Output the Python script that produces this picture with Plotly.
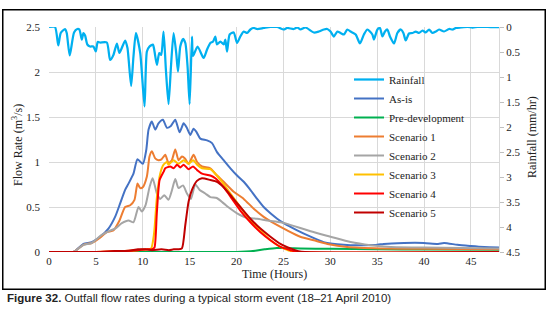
import plotly.graph_objects as go

# ---------------- data ----------------
rain_t = [0, 0.64, 0.99, 1.25, 1.71, 1.89, 2.21, 2.67, 3.02, 3.24, 3.5, 3.67, 3.85, 4.09, 4.38, 4.73, 4.99,
          5.2, 5.45, 6.17, 6.52, 6.87, 7.24, 7.51, 8.12, 8.37, 8.76, 9.01, 9.27, 9.73, 10.19, 10.44, 10.72,
          11.08, 11.22, 11.51, 11.76, 11.97, 12.22, 12.47, 12.75, 13.01, 13.29, 13.57, 13.76, 14.0, 14.29,
          14.54, 14.78, 15.0, 15.25, 15.36, 15.85, 16.49, 16.86, 17.21, 17.5, 17.74, 17.92, 18.28, 18.63,
          18.81, 18.99, 19.27, 19.7, 20.06, 20.41, 20.77, 21.13, 21.48, 21.84, 22.2, 22.9, 23.62, 24.34,
          25.04, 25.4, 26.11, 26.47, 26.83, 27.36, 28.25, 28.78, 29.32, 29.68, 30.03, 30.39, 30.75, 31.1,
          31.46, 31.82, 32.17, 32.71, 33.17, 33.59, 33.96, 34.49, 34.66, 35.03, 35.3, 35.56, 35.84, 36.09,
          36.37, 36.8, 37.16, 37.52, 37.8, 38.05, 38.4, 38.77, 39.12, 39.47, 39.84, 40.19, 40.54, 40.9,
          41.26, 41.61, 42.14, 42.68, 43.04, 43.4, 43.93, 44.65, 45.18, 45.71, 47.1, 48]
rain_v = [0, 0, 0.37, 0.12, 0.04, 0.12, 0.57, 0.11, 0.04, 0.05, 0.25, 0.12, 0.17, 0.35, 0.39, 0.39, 0.49,
          0.3, 0.31, 0.31, 0.66, 0.56, 0.33, 0.52, 0.27, 0.42, 1.18, 0.59, 0.12, 0.52, 1.59, 0.49, 0.39,
          0.35, 0.45, 0.76, 0.52, 0.56, 0.09, 0.86, 1.54, 0.79, 0.12, 0.52, 0.89, 0.39, 0.24,
          0.32, 0.79, 1.54, 0.19, 0.58, 0.39, 0.62, 0.45, 0.32, 0.29, 0.19, 0.35, 0.29, 0.35,
          0.25, 0.49, 0.15, 0.11, 0.32, 0.19, 0.09, 0.12, 0.05, 0.02, 0.04, 0.02, 0, 0,
          0.05, 0.02, 0.04, 0.01, 0.05, 0.01, 0.11, 0.09, 0.05, 0.04, 0.09, 0.19, 0.09, 0.12,
          0.15, 0.05, 0.09, 0.15, 0.33, 0.15, 0.05, 0.15, 0.25, 0.05, 0.02, 0.19, 0.09, 0.05,
          0.19, 0.33, 0.12, 0.05, 0.12, 0.27, 0.13, 0.12, 0.09, 0.12, 0.07, 0.11, 0.05, 0.12,
          0.09, 0.05, 0.09, 0.04, 0.05, 0.02, 0.01, 0, 0.01, 0, 0, 0]

asis_t = [0, 2.6, 3.67, 4.56, 5.45, 6.34, 7.05, 7.59, 8.12, 8.48, 9.01, 9.44, 10.01, 10.37, 10.62, 10.97,
          11.33, 11.68, 12.15, 12.58, 13.0, 13.47, 13.93, 14.36, 14.7, 15.07, 15.42, 15.75, 16.14, 16.86,
          17.39, 17.92, 18.63, 19.35, 20.06, 20.77, 21.48, 22.2, 22.9, 23.62, 24.34, 25.04, 26.47, 27.9,
          29.3, 30.75, 32.17, 33.6, 35.03, 35.7, 37.87, 40.0, 41.5, 42.14, 43.57, 45.0, 46.42, 48]
asis_q = [0, 0, 0.09, 0.11, 0.17, 0.26, 0.39, 0.54, 0.69, 0.76, 0.87, 1.03, 0.98, 1.13, 1.36, 1.45,
          1.36, 1.43, 1.47, 1.38, 1.40, 1.47, 1.33, 1.43, 1.38, 1.30, 1.37, 1.33, 1.26, 1.24,
          1.21, 1.11, 1.02, 0.93, 0.85, 0.78, 0.69, 0.59, 0.50, 0.43, 0.37, 0.32, 0.24, 0.17,
          0.11, 0.086, 0.075, 0.075, 0.08, 0.09, 0.10, 0.10, 0.09, 0.10, 0.08, 0.067, 0.056, 0.05]

pre_t = [0, 20, 21, 22, 23, 24.3, 26.8, 30, 35, 40, 48]
pre_q = [0, 0, 0.005, 0.015, 0.03, 0.045, 0.04, 0.035, 0.03, 0.028, 0.025]

s1_t = [0, 2.6, 3.67, 4.56, 5.45, 6.17, 6.87, 7.52, 8.12, 8.66, 9.12, 9.44, 9.73, 10.0, 10.44, 10.72,
        10.97, 11.33, 11.68, 12.0, 12.4, 12.75, 13.1, 13.47, 13.82, 14.18, 14.5, 14.89, 15.42, 15.8,
        16.32, 17.21, 17.74, 18.63, 19.7, 20.77, 21.84, 22.9, 23.97, 25.4, 26.8, 28.25, 29.7, 31.8,
        35.4, 40, 48]
s1_q = [0, 0, 0.08, 0.10, 0.16, 0.22, 0.24, 0.35, 0.50, 0.52, 0.58, 0.76, 0.71, 0.72, 0.84, 1.06,
        1.12, 1.04, 1.02, 1.03, 1.08, 0.99, 1.02, 1.14, 1.02, 1.06, 1.04, 0.98, 1.08, 1.0,
        0.95, 0.93, 0.87, 0.78, 0.67, 0.59, 0.48, 0.39, 0.32, 0.24, 0.17, 0.13, 0.09, 0.056,
        0.04, 0.035, 0.03]

s2_t = [0, 2.6, 3.67, 4.56, 5.63, 6.34, 7.05, 7.77, 8.48, 9.01, 9.55, 9.9, 10.3, 10.72, 11.05, 11.51,
        11.86, 12.3, 12.75, 13.1, 13.47, 13.82, 14.29, 14.72, 15.14, 15.6, 16.07, 16.67, 17.21, 17.9,
        18.63, 19.35, 20.06, 21.13, 22.2, 23.27, 24.69, 25.5, 27.9, 30.03, 32.17, 34.3, 36.45, 40, 48]
s2_q = [0, 0, 0.08, 0.10, 0.19, 0.23, 0.26, 0.32, 0.35, 0.33, 0.50, 0.45, 0.52, 0.72, 0.82, 0.65,
        0.59, 0.63, 0.58, 0.68, 0.81, 0.71, 0.74, 0.65, 0.59, 0.75, 0.69, 0.65, 0.61, 0.60,
        0.54, 0.48, 0.43, 0.38, 0.37, 0.35, 0.33, 0.31, 0.23, 0.17, 0.11, 0.075, 0.056, 0.05, 0.04]

s3_t = [0, 5, 8, 9.5, 10.5, 10.9, 11.2, 11.51, 11.86, 12.22, 12.58, 12.75, 13.29, 13.8, 14.36, 14.89,
        15.36, 15.8, 16.32, 17.21, 17.74, 18.46, 19.35, 20.41, 21.48, 22.55, 23.62, 24.69, 25.5, 26.3, 48]
s3_q = [0, 0, 0.01, 0.02, 0.03, 0.04, 0.2, 0.61, 0.87, 0.97, 1.0, 0.97, 1.02, 0.98, 1.02, 0.98,
        1.02, 0.97, 0.93, 0.92, 0.87, 0.78, 0.65, 0.50, 0.35, 0.24, 0.13, 0.056, 0.02, 0, 0]

s4_t = [0, 5, 8, 9.5, 10.5, 11.0, 11.25, 11.5, 11.8, 12.22, 12.4, 12.93, 13.3, 13.65, 14.0, 14.36,
        14.89, 15.36, 15.8, 16.32, 17.21, 17.74, 18.63, 19.53, 20.41, 21.48, 22.55, 23.62, 24.69,
        25.76, 26.5, 48]
s4_q = [0, 0, 0.01, 0.02, 0.03, 0.03, 0.05, 0.43, 0.8, 0.89, 0.93, 0.95, 0.93, 0.97, 0.94, 0.97,
        0.92, 0.95, 0.91, 0.87, 0.85, 0.82, 0.72, 0.59, 0.46, 0.33, 0.22, 0.13, 0.056,
        0.02, 0, 0]

s5_t = [0, 5, 7, 8.5, 9.5, 10.3, 11, 12, 12.8, 13.3, 13.82, 14.18, 14.54, 14.89, 15.25, 15.78, 16.32,
        17.21, 17.92, 18.63, 19.53, 20.41, 21.48, 22.55, 23.62, 24.69, 25.76, 26.6, 27.3, 48]
s5_q = [0, 0, 0.01, 0.015, 0.03, 0.03, 0.02, 0.03, 0.02, 0.03, 0.03, 0.04, 0.3, 0.56, 0.69, 0.79, 0.82,
        0.80, 0.78, 0.72, 0.61, 0.50, 0.37, 0.26, 0.17, 0.09, 0.04, 0.01, 0, 0]

x_ticks = [0, 5, 10, 15, 20, 25, 30, 35, 40, 45]

SERIF = "Liberation Serif"
GRID = "#d9d9d9"

fig = go.Figure()

fig.add_trace(go.Scatter(x=rain_t, y=rain_v, name="Rainfall", yaxis="y2", mode="lines",
                         line=dict(color="#00B0F0", width=2.25, shape="spline", smoothing=0.6)))

flows = [
    ("As-is", asis_t, asis_q, "#4472C4"),
    ("Pre-development", pre_t, pre_q, "#00B050"),
    ("Scenario 1", s1_t, s1_q, "#ED7D31"),
    ("Scenario 2", s2_t, s2_q, "#A5A5A5"),
    ("Scenario 3", s3_t, s3_q, "#FFC000"),
    ("Scenario 4", s4_t, s4_q, "#FF0000"),
    ("Scenario 5", s5_t, s5_q, "#C00000"),
]
for name, t, q, c in flows:
    fig.add_trace(go.Scatter(x=t, y=q, name=name, mode="lines",
                             line=dict(color=c, width=2, shape="spline", smoothing=0.6)))

W, H = 548, 319
L, R, T, B = 49, 49, 27, 67
pw, ph = W - L - R, H - T - B


def px(x):
    return (x - L) / pw


def py(y):
    return (H - B - y) / ph


TXT = "#222"

fig.update_layout(
    width=W, height=H,
    margin=dict(l=L, r=R, t=T, b=B),
    paper_bgcolor="white", plot_bgcolor="white",
    font=dict(family=SERIF, size=11, color=TXT),
    showlegend=True,
    legend=dict(x=px(349), y=py(65), xanchor="left", yanchor="top",
                bgcolor="rgba(0,0,0,0)", font=dict(family=SERIF, size=11, color=TXT),
                tracegroupgap=0),
    xaxis=dict(range=[0, 48], tickvals=x_ticks, showgrid=True, gridcolor=GRID, gridwidth=1,
               zeroline=False, showline=False, ticks="", ticklabelstandoff=1,
               tickfont=dict(family=SERIF, size=11)),
    yaxis=dict(range=[0, 2.5], dtick=0.5, showgrid=True, gridcolor=GRID, gridwidth=1,
               zeroline=False, showline=False, ticks="", ticklabelstandoff=8,
               tickfont=dict(family=SERIF, size=11)),
    yaxis2=dict(range=[4.5, 0], dtick=0.5, overlaying="y", side="right", showgrid=False,
                zeroline=False, showline=True, linecolor=GRID, linewidth=1,
                ticks="outside", ticklen=4, tickcolor="#bfbfbf", ticklabelstandoff=0,
                tickfont=dict(family=SERIF, size=11)),
    annotations=[
        dict(text="Flow Rate (m<sup>3</sup>/s)", xref="paper", yref="paper", x=px(17), y=py(145),
             xanchor="center", yanchor="middle",
             textangle=-90, showarrow=False, font=dict(family=SERIF, size=12, color=TXT)),
        dict(text="Rainfall (mm/hr)", xref="paper", yref="paper", x=px(532), y=py(137),
             xanchor="center", yanchor="middle",
             textangle=-90, showarrow=False, font=dict(family=SERIF, size=12, color=TXT)),
        dict(text="Time (Hours)", xref="paper", yref="paper", x=px(274), y=py(274),
             xanchor="center", yanchor="middle",
             showarrow=False, font=dict(family=SERIF, size=12, color=TXT)),
        dict(text="<b>Figure 32.</b> Outfall flow rates during a typical storm event (18\u201321 April 2010)",
             xref="paper", yref="paper", x=px(5), y=py(298), xanchor="left", yanchor="middle",
             showarrow=False, font=dict(family="Liberation Sans", size=11.5, color=TXT)),
    ],
)

# frame around the chart (figure-pixel corners converted to paper units)
fig.add_shape(type="rect", xref="paper", yref="paper",
              x0=px(2.75), x1=px(545.25), y0=py(289.25), y1=py(9.75),
              line=dict(color="black", width=1.5))

# page setup: no body margin; same frame also as an overlay element
post = (
    "document.body.style.margin='0px';"
    "document.body.style.overflow='hidden';"
    "var f=document.createElement('div');"
    "f.style.cssText='position:absolute;left:2px;top:9px;width:544px;height:281px;z-index:10;"
    "box-sizing:border-box;border:1.5px solid #000;pointer-events:none;';"
    "document.body.appendChild(f);"
)

fig.write_html("out.html", config={"displayModeBar": False}, post_script=post)
